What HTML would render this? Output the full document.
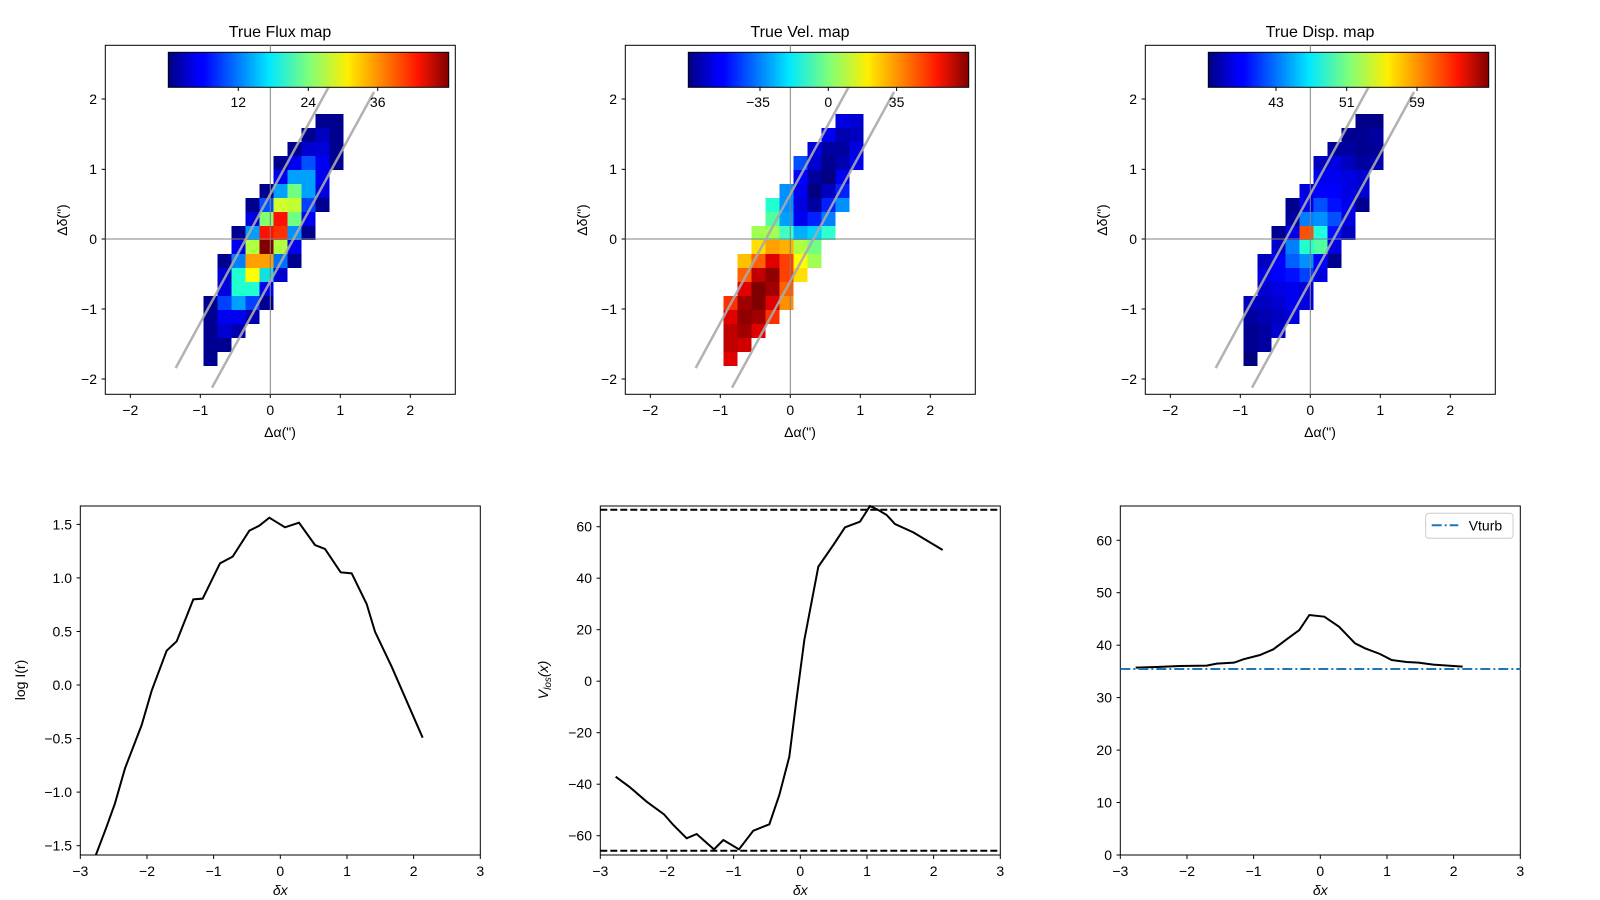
<!DOCTYPE html>
<html><head><meta charset="utf-8"><style>
body{margin:0;background:#fff}
svg{display:block;font-family:"Liberation Sans","DejaVu Sans",sans-serif;font-size:14px}
.px rect{width:1px;height:1px}
</style></head><body>
<svg width="1600" height="900" viewBox="0 0 1600 900" xmlns="http://www.w3.org/2000/svg">
<defs>
<linearGradient id="jet" x1="0" x2="1" y1="0" y2="0">
<stop offset="0" stop-color="#000080"/><stop offset="0.11" stop-color="#0000ff"/><stop offset="0.125" stop-color="#0000ff"/>
<stop offset="0.36" stop-color="#00e8ff"/><stop offset="0.5" stop-color="#7dff7a"/><stop offset="0.64" stop-color="#ffee00"/>
<stop offset="0.89" stop-color="#ff1500"/><stop offset="1" stop-color="#800000"/>
</linearGradient>
<g id="topaxes">
<rect x="105.3" y="45.3" width="350" height="349" fill="none" stroke="#000" stroke-width="1"/>
<g stroke="#000" stroke-width="1">
<line x1="130.3" y1="394.3" x2="130.3" y2="398"/><line x1="200.3" y1="394.3" x2="200.3" y2="398"/><line x1="270.3" y1="394.3" x2="270.3" y2="398"/><line x1="340.3" y1="394.3" x2="340.3" y2="398"/><line x1="410.3" y1="394.3" x2="410.3" y2="398"/>
<line x1="101.6" y1="99" x2="105.3" y2="99"/><line x1="101.6" y1="169.3" x2="105.3" y2="169.3"/><line x1="101.6" y1="239" x2="105.3" y2="239"/><line x1="101.6" y1="309" x2="105.3" y2="309"/><line x1="101.6" y1="379" x2="105.3" y2="379"/>
</g>
<g text-anchor="middle" fill="#000">
<text x="130.3" y="415">−2</text><text x="200.3" y="415">−1</text><text x="270.3" y="415">0</text><text x="340.3" y="415">1</text><text x="410.3" y="415">2</text>
<text x="280" y="437">Δα(")</text>
</g>
<g text-anchor="end" fill="#000">
<text x="97" y="104">2</text><text x="97" y="174">1</text><text x="97" y="244">0</text><text x="97" y="314">−1</text><text x="97" y="384">−2</text>
</g>
<text transform="translate(67,220) rotate(-90)" text-anchor="middle">Δδ(")</text>
</g>
<g id="guides">
<line x1="105.3" y1="239" x2="455.3" y2="239" stroke="#808080" stroke-width="1"/>
<line x1="270.3" y1="45.3" x2="270.3" y2="394.3" stroke="#808080" stroke-width="1"/>
<line x1="175.7" y1="368" x2="339" y2="68" stroke="#aaa" stroke-width="2.5" opacity="0.9"/>
<line x1="212" y1="387.7" x2="374" y2="92" stroke="#aaa" stroke-width="2.5" opacity="0.9"/>
</g>
</defs>

<!-- Flux map -->
<use href="#topaxes"/>
<text x="280" y="37" text-anchor="middle" font-size="16">True Flux map</text>
<g class="px" transform="translate(203.3,114) scale(14)" shape-rendering="crispEdges">
<rect x="8" y="0" fill="#000090"/><rect x="9" y="0" fill="#000090"/>
<rect x="7" y="1" fill="#000090"/><rect x="8" y="1" fill="#0000c0"/><rect x="9" y="1" fill="#000090"/>
<rect x="6" y="2" fill="#000090"/><rect x="7" y="2" fill="#0000d0"/><rect x="8" y="2" fill="#0000d8"/><rect x="9" y="2" fill="#000090"/>
<rect x="5" y="3" fill="#000090"/><rect x="6" y="3" fill="#0000f0"/><rect x="7" y="3" fill="#0050ff"/><rect x="8" y="3" fill="#0000f0"/><rect x="9" y="3" fill="#000090"/>
<rect x="5" y="4" fill="#0000f0"/><rect x="6" y="4" fill="#00a0ff"/><rect x="7" y="4" fill="#00a0ff"/><rect x="8" y="4" fill="#0000f0"/>
<rect x="4" y="5" fill="#000090"/><rect x="5" y="5" fill="#00a0ff"/><rect x="6" y="5" fill="#70ff80"/><rect x="7" y="5" fill="#00a0ff"/><rect x="8" y="5" fill="#0000e0"/>
<rect x="3" y="6" fill="#000090"/><rect x="4" y="6" fill="#0050ff"/><rect x="5" y="6" fill="#d0ff30"/><rect x="6" y="6" fill="#c0ff30"/><rect x="7" y="6" fill="#0040ff"/><rect x="8" y="6" fill="#000090"/>
<rect x="3" y="7" fill="#0000e0"/><rect x="4" y="7" fill="#80ff70"/><rect x="5" y="7" fill="#ff1000"/><rect x="6" y="7" fill="#70ff80"/><rect x="7" y="7" fill="#0000f0"/>
<rect x="2" y="8" fill="#000090"/><rect x="3" y="8" fill="#00a0ff"/><rect x="4" y="8" fill="#ff1000"/><rect x="5" y="8" fill="#ff3000"/><rect x="6" y="8" fill="#0090ff"/><rect x="7" y="8" fill="#000090"/>
<rect x="2" y="9" fill="#0000f0"/><rect x="3" y="9" fill="#b0ff40"/><rect x="4" y="9" fill="#800000"/><rect x="5" y="9" fill="#b0ff40"/><rect x="6" y="9" fill="#0000f0"/>
<rect x="1" y="10" fill="#000090"/><rect x="2" y="10" fill="#0080ff"/><rect x="3" y="10" fill="#ffa000"/><rect x="4" y="10" fill="#ffa000"/><rect x="5" y="10" fill="#0070ff"/><rect x="6" y="10" fill="#000090"/>
<rect x="1" y="11" fill="#0000d0"/><rect x="2" y="11" fill="#20ffd0"/><rect x="3" y="11" fill="#ffff00"/><rect x="4" y="11" fill="#10e0e0"/><rect x="5" y="11" fill="#0000d0"/>
<rect x="1" y="12" fill="#0000e0"/><rect x="2" y="12" fill="#20ffd0"/><rect x="3" y="12" fill="#20ffd0"/><rect x="4" y="12" fill="#0000f0"/>
<rect x="0" y="13" fill="#000090"/><rect x="1" y="13" fill="#0040ff"/><rect x="2" y="13" fill="#00a0ff"/><rect x="3" y="13" fill="#0040ff"/><rect x="4" y="13" fill="#000090"/>
<rect x="0" y="14" fill="#000090"/><rect x="1" y="14" fill="#0000f0"/><rect x="2" y="14" fill="#0000f0"/><rect x="3" y="14" fill="#0000b0"/>
<rect x="0" y="15" fill="#000090"/><rect x="1" y="15" fill="#0000d0"/><rect x="2" y="15" fill="#0000b0"/>
<rect x="0" y="16" fill="#000090"/><rect x="1" y="16" fill="#000090"/>
<rect x="0" y="17" fill="#000090"/>
</g>
<use href="#guides"/>
<rect x="168.3" y="52.3" width="280.4" height="35" fill="url(#jet)" stroke="#000" stroke-width="1"/>
<g stroke="#000"><line x1="238.3" y1="87.3" x2="238.3" y2="91"/><line x1="308.3" y1="87.3" x2="308.3" y2="91"/><line x1="377.7" y1="87.3" x2="377.7" y2="91"/></g>
<g text-anchor="middle"><text x="238.3" y="107">12</text><text x="308.3" y="107">24</text><text x="377.7" y="107">36</text></g>

<!-- Vel map -->
<g transform="translate(520,0)">
<use href="#topaxes"/>
<text x="280" y="37" text-anchor="middle" font-size="16">True Vel. map</text>
<g class="px" transform="translate(203.3,114) scale(14)" shape-rendering="crispEdges">
<rect x="8" y="0" fill="#0000e0"/><rect x="9" y="0" fill="#0000d0"/>
<rect x="7" y="1" fill="#0000f0"/><rect x="8" y="1" fill="#0000b0"/><rect x="9" y="1" fill="#0000c0"/>
<rect x="6" y="2" fill="#0000e0"/><rect x="7" y="2" fill="#0000a0"/><rect x="8" y="2" fill="#0000a0"/><rect x="9" y="2" fill="#0000e0"/>
<rect x="5" y="3" fill="#0050ff"/><rect x="6" y="3" fill="#0000d0"/><rect x="7" y="3" fill="#000090"/><rect x="8" y="3" fill="#0000b0"/><rect x="9" y="3" fill="#0000f0"/>
<rect x="5" y="4" fill="#0000ff"/><rect x="6" y="4" fill="#0000a0"/><rect x="7" y="4" fill="#000080"/><rect x="8" y="4" fill="#0000f0"/>
<rect x="4" y="5" fill="#0090ff"/><rect x="5" y="5" fill="#0000f0"/><rect x="6" y="5" fill="#000080"/><rect x="7" y="5" fill="#0000c0"/><rect x="8" y="5" fill="#0020ff"/>
<rect x="3" y="6" fill="#20ffd0"/><rect x="4" y="6" fill="#0090ff"/><rect x="5" y="6" fill="#0000e0"/><rect x="6" y="6" fill="#0000a0"/><rect x="7" y="6" fill="#0020ff"/><rect x="8" y="6" fill="#0090ff"/>
<rect x="3" y="7" fill="#50ffa0"/><rect x="4" y="7" fill="#00a0ff"/><rect x="5" y="7" fill="#0000f0"/><rect x="6" y="7" fill="#0020ff"/><rect x="7" y="7" fill="#0080ff"/>
<rect x="2" y="8" fill="#a0ff50"/><rect x="3" y="8" fill="#a0ff50"/><rect x="4" y="8" fill="#40ffc0"/><rect x="5" y="8" fill="#00b0ff"/><rect x="6" y="8" fill="#00d0ff"/><rect x="7" y="8" fill="#30ffd0"/>
<rect x="2" y="9" fill="#ffe000"/><rect x="3" y="9" fill="#ffa000"/><rect x="4" y="9" fill="#ffb000"/><rect x="5" y="9" fill="#b0ff40"/><rect x="6" y="9" fill="#70ff80"/>
<rect x="1" y="10" fill="#ffc000"/><rect x="2" y="10" fill="#ff6000"/><rect x="3" y="10" fill="#e00000"/><rect x="4" y="10" fill="#ff4000"/><rect x="5" y="10" fill="#ffff00"/><rect x="6" y="10" fill="#a0ff50"/>
<rect x="1" y="11" fill="#ff6000"/><rect x="2" y="11" fill="#c00000"/><rect x="3" y="11" fill="#900000"/><rect x="4" y="11" fill="#ff4000"/><rect x="5" y="11" fill="#ffe000"/>
<rect x="1" y="12" fill="#e00000"/><rect x="2" y="12" fill="#800000"/><rect x="3" y="12" fill="#a00000"/><rect x="4" y="12" fill="#ff6000"/>
<rect x="0" y="13" fill="#ff3000"/><rect x="1" y="13" fill="#a00000"/><rect x="2" y="13" fill="#800000"/><rect x="3" y="13" fill="#e00000"/><rect x="4" y="13" fill="#ff9000"/>
<rect x="0" y="14" fill="#e00000"/><rect x="1" y="14" fill="#900000"/><rect x="2" y="14" fill="#a00000"/><rect x="3" y="14" fill="#ff3000"/>
<rect x="0" y="15" fill="#c00000"/><rect x="1" y="15" fill="#a00000"/><rect x="2" y="15" fill="#e00000"/>
<rect x="0" y="16" fill="#c00000"/><rect x="1" y="16" fill="#d00000"/>
<rect x="0" y="17" fill="#e00000"/>
</g>
<use href="#guides"/>
<rect x="168.3" y="52.3" width="280.4" height="35" fill="url(#jet)" stroke="#000" stroke-width="1"/>
<g stroke="#000"><line x1="240" y1="87.3" x2="240" y2="91"/><line x1="308.3" y1="87.3" x2="308.3" y2="91"/><line x1="376.6" y1="87.3" x2="376.6" y2="91"/></g>
<g text-anchor="middle"><text x="238" y="107">−35</text><text x="308.3" y="107">0</text><text x="376.6" y="107">35</text></g>
</g>

<!-- Disp map -->
<g transform="translate(1040,0)">
<use href="#topaxes"/>
<text x="280" y="37" text-anchor="middle" font-size="16">True Disp. map</text>
<g class="px" transform="translate(203.3,114) scale(14)" shape-rendering="crispEdges">
<rect x="8" y="0" fill="#000088"/><rect x="9" y="0" fill="#000088"/>
<rect x="7" y="1" fill="#000090"/><rect x="8" y="1" fill="#000090"/><rect x="9" y="1" fill="#0000a0"/>
<rect x="6" y="2" fill="#0000a0"/><rect x="7" y="2" fill="#0000a0"/><rect x="8" y="2" fill="#000090"/><rect x="9" y="2" fill="#000098"/>
<rect x="5" y="3" fill="#0000c0"/><rect x="6" y="3" fill="#0000e0"/><rect x="7" y="3" fill="#0000c0"/><rect x="8" y="3" fill="#0000a0"/><rect x="9" y="3" fill="#0000b0"/>
<rect x="5" y="4" fill="#0000f0"/><rect x="6" y="4" fill="#0000f0"/><rect x="7" y="4" fill="#0000e0"/><rect x="8" y="4" fill="#0000d0"/>
<rect x="4" y="5" fill="#0000e0"/><rect x="5" y="5" fill="#0000ff"/><rect x="6" y="5" fill="#0000ff"/><rect x="7" y="5" fill="#0000e0"/><rect x="8" y="5" fill="#0000d0"/>
<rect x="3" y="6" fill="#000090"/><rect x="4" y="6" fill="#0000f0"/><rect x="5" y="6" fill="#0050ff"/><rect x="6" y="6" fill="#0010ff"/><rect x="7" y="6" fill="#0000f0"/><rect x="8" y="6" fill="#000090"/>
<rect x="3" y="7" fill="#0000a0"/><rect x="4" y="7" fill="#0080ff"/><rect x="5" y="7" fill="#0090ff"/><rect x="6" y="7" fill="#0050ff"/><rect x="7" y="7" fill="#0000e0"/>
<rect x="2" y="8" fill="#000090"/><rect x="3" y="8" fill="#0000f0"/><rect x="4" y="8" fill="#ff5000"/><rect x="5" y="8" fill="#20ffe0"/><rect x="6" y="8" fill="#0010ff"/><rect x="7" y="8" fill="#0000c0"/>
<rect x="2" y="9" fill="#0000d0"/><rect x="3" y="9" fill="#0080ff"/><rect x="4" y="9" fill="#20ffd0"/><rect x="5" y="9" fill="#50ffa0"/><rect x="6" y="9" fill="#0000e0"/>
<rect x="1" y="10" fill="#0000c0"/><rect x="2" y="10" fill="#0000ff"/><rect x="3" y="10" fill="#0060ff"/><rect x="4" y="10" fill="#0090ff"/><rect x="5" y="10" fill="#0000ff"/><rect x="6" y="10" fill="#000090"/>
<rect x="1" y="11" fill="#0000e0"/><rect x="2" y="11" fill="#0000ff"/><rect x="3" y="11" fill="#0010ff"/><rect x="4" y="11" fill="#0040ff"/><rect x="5" y="11" fill="#0000e0"/>
<rect x="1" y="12" fill="#0000d0"/><rect x="2" y="12" fill="#0000e0"/><rect x="3" y="12" fill="#0000f0"/><rect x="4" y="12" fill="#0000e0"/>
<rect x="0" y="13" fill="#0000c0"/><rect x="1" y="13" fill="#0000c0"/><rect x="2" y="13" fill="#0000d0"/><rect x="3" y="13" fill="#0000f0"/><rect x="4" y="13" fill="#0000e0"/>
<rect x="0" y="14" fill="#0000a0"/><rect x="1" y="14" fill="#0000b0"/><rect x="2" y="14" fill="#0000c0"/><rect x="3" y="14" fill="#0000e0"/>
<rect x="0" y="15" fill="#000090"/><rect x="1" y="15" fill="#0000a0"/><rect x="2" y="15" fill="#0000d0"/>
<rect x="0" y="16" fill="#000090"/><rect x="1" y="16" fill="#0000a0"/>
<rect x="0" y="17" fill="#000080"/>
</g>
<use href="#guides"/>
<rect x="168.3" y="52.3" width="280.4" height="35" fill="url(#jet)" stroke="#000" stroke-width="1"/>
<g stroke="#000"><line x1="236" y1="87.3" x2="236" y2="91"/><line x1="306.7" y1="87.3" x2="306.7" y2="91"/><line x1="377" y1="87.3" x2="377" y2="91"/></g>
<g text-anchor="middle"><text x="236" y="107">43</text><text x="306.7" y="107">51</text><text x="377" y="107">59</text></g>
</g>

<!-- Bottom common x axis ticks -->
<g id="bx">
<g stroke="#000"><line x1="80.3" y1="855" x2="80.3" y2="859"/><line x1="147" y1="855" x2="147" y2="859"/><line x1="213.6" y1="855" x2="213.6" y2="859"/><line x1="280.3" y1="855" x2="280.3" y2="859"/><line x1="347" y1="855" x2="347" y2="859"/><line x1="413.6" y1="855" x2="413.6" y2="859"/><line x1="480.3" y1="855" x2="480.3" y2="859"/></g>
<g text-anchor="middle"><text x="80.3" y="876">−3</text><text x="147" y="876">−2</text><text x="213.6" y="876">−1</text><text x="280.3" y="876">0</text><text x="347" y="876">1</text><text x="413.6" y="876">2</text><text x="480.3" y="876">3</text>
<text x="280.3" y="895" font-style="italic">δx</text></g>
</g>

<!-- Bottom left -->
<rect x="80.3" y="506" width="400" height="349" fill="none" stroke="#000"/>
<g stroke="#000"><line x1="76.6" y1="524.4" x2="80.3" y2="524.4"/><line x1="76.6" y1="577.9" x2="80.3" y2="577.9"/><line x1="76.6" y1="631.5" x2="80.3" y2="631.5"/><line x1="76.6" y1="685" x2="80.3" y2="685"/><line x1="76.6" y1="738.6" x2="80.3" y2="738.6"/><line x1="76.6" y1="792.1" x2="80.3" y2="792.1"/><line x1="76.6" y1="845.7" x2="80.3" y2="845.7"/></g>
<g text-anchor="end"><text x="72" y="529.4">1.5</text><text x="72" y="583">1.0</text><text x="72" y="636.5">0.5</text><text x="72" y="690">0.0</text><text x="72" y="743.6">−0.5</text><text x="72" y="797.1">−1.0</text><text x="72" y="850.7">−1.5</text></g>
<text transform="translate(25,680) rotate(-90)" text-anchor="middle">log I(r)</text>
<svg x="80.3" y="506" width="400" height="349" viewBox="80.3 506 400 349" overflow="hidden">
<g transform="translate(0,480) scale(0.33333)"><polyline fill="none" stroke="#000" stroke-width="6" points="280,1145 318,1045 345,970 375,865 425,735 455,632 500,512 530,484 580,358 608,356 660,250 698,230 748,152 778,137 808,113 855,142 897,128 945,195 975,207 1022,277 1055,280 1100,372 1125,455 1175,560 1268,773"/></g>
</svg>

<!-- Bottom middle -->
<g transform="translate(520,0)">
<use href="#bx"/>
<rect x="80.3" y="506" width="400" height="349" fill="none" stroke="#000"/>
<g stroke="#000"><line x1="76.6" y1="526.7" x2="80.3" y2="526.7"/><line x1="76.6" y1="578.2" x2="80.3" y2="578.2"/><line x1="76.6" y1="629.7" x2="80.3" y2="629.7"/><line x1="76.6" y1="681.2" x2="80.3" y2="681.2"/><line x1="76.6" y1="732.7" x2="80.3" y2="732.7"/><line x1="76.6" y1="784.2" x2="80.3" y2="784.2"/><line x1="76.6" y1="835.7" x2="80.3" y2="835.7"/></g>
<g text-anchor="end"><text x="72" y="531.7">60</text><text x="72" y="583.2">40</text><text x="72" y="634.7">20</text><text x="72" y="686.2">0</text><text x="72" y="737.7">−20</text><text x="72" y="789.2">−40</text><text x="72" y="840.7">−60</text></g>
<text transform="translate(28,680) rotate(-90)" text-anchor="middle" font-style="italic">V<tspan font-size="10" dy="3">los</tspan><tspan dy="-3">(x)</tspan></text>
<line x1="80.3" y1="509.7" x2="480.3" y2="509.7" stroke="#000" stroke-width="2" stroke-dasharray="7,3"/>
<line x1="80.3" y1="850.7" x2="480.3" y2="850.7" stroke="#000" stroke-width="2" stroke-dasharray="7,3"/>
<g transform="translate(0,480) scale(0.33333)"><polyline fill="none" stroke="#000" stroke-width="6" points="287,890 330,922 380,965 432,1003 460,1035 500,1075 530,1062 582,1108 610,1080 657,1108 700,1052 748,1033 778,945 808,830 828,670 853,480 895,260 940,195 975,142 1020,125 1050,78 1075,90 1100,105 1125,132 1180,157 1268,210"/></g>
</g>

<!-- Bottom right -->
<g transform="translate(1040,0)">
<use href="#bx"/>
<rect x="80.3" y="506" width="400" height="349" fill="none" stroke="#000"/>
<g stroke="#000"><line x1="76.6" y1="855" x2="80.3" y2="855"/><line x1="76.6" y1="802.5" x2="80.3" y2="802.5"/><line x1="76.6" y1="750.1" x2="80.3" y2="750.1"/><line x1="76.6" y1="697.6" x2="80.3" y2="697.6"/><line x1="76.6" y1="645.2" x2="80.3" y2="645.2"/><line x1="76.6" y1="592.7" x2="80.3" y2="592.7"/><line x1="76.6" y1="540.3" x2="80.3" y2="540.3"/></g>
<g text-anchor="end"><text x="72" y="860">0</text><text x="72" y="807.5">10</text><text x="72" y="755.1">20</text><text x="72" y="702.6">30</text><text x="72" y="650.2">40</text><text x="72" y="597.7">50</text><text x="72" y="545.3">60</text></g>
<g transform="translate(0,480) scale(0.33333)"><polyline fill="none" stroke="#000" stroke-width="6" points="287,563 350,561 420,558 500,557 530,551 582,548 610,538 660,525 700,508 740,478 778,450 808,405 853,410 897,440 945,490 975,505 1020,522 1055,540 1100,546 1135,548 1180,554 1268,560"/></g>
<line x1="80.3" y1="669" x2="480.3" y2="669" stroke="#1f77b4" stroke-width="2" stroke-dasharray="10,3,2,3"/>
<rect x="385.7" y="513.3" width="87.3" height="25" rx="3" fill="#fff" stroke="#ccc"/>
<line x1="391.7" y1="525.3" x2="418.3" y2="525.3" stroke="#1f77b4" stroke-width="2" stroke-dasharray="10,3,2,3"/>
<text x="428.7" y="530.5">Vturb</text>
</g>
</svg>
</body></html>
